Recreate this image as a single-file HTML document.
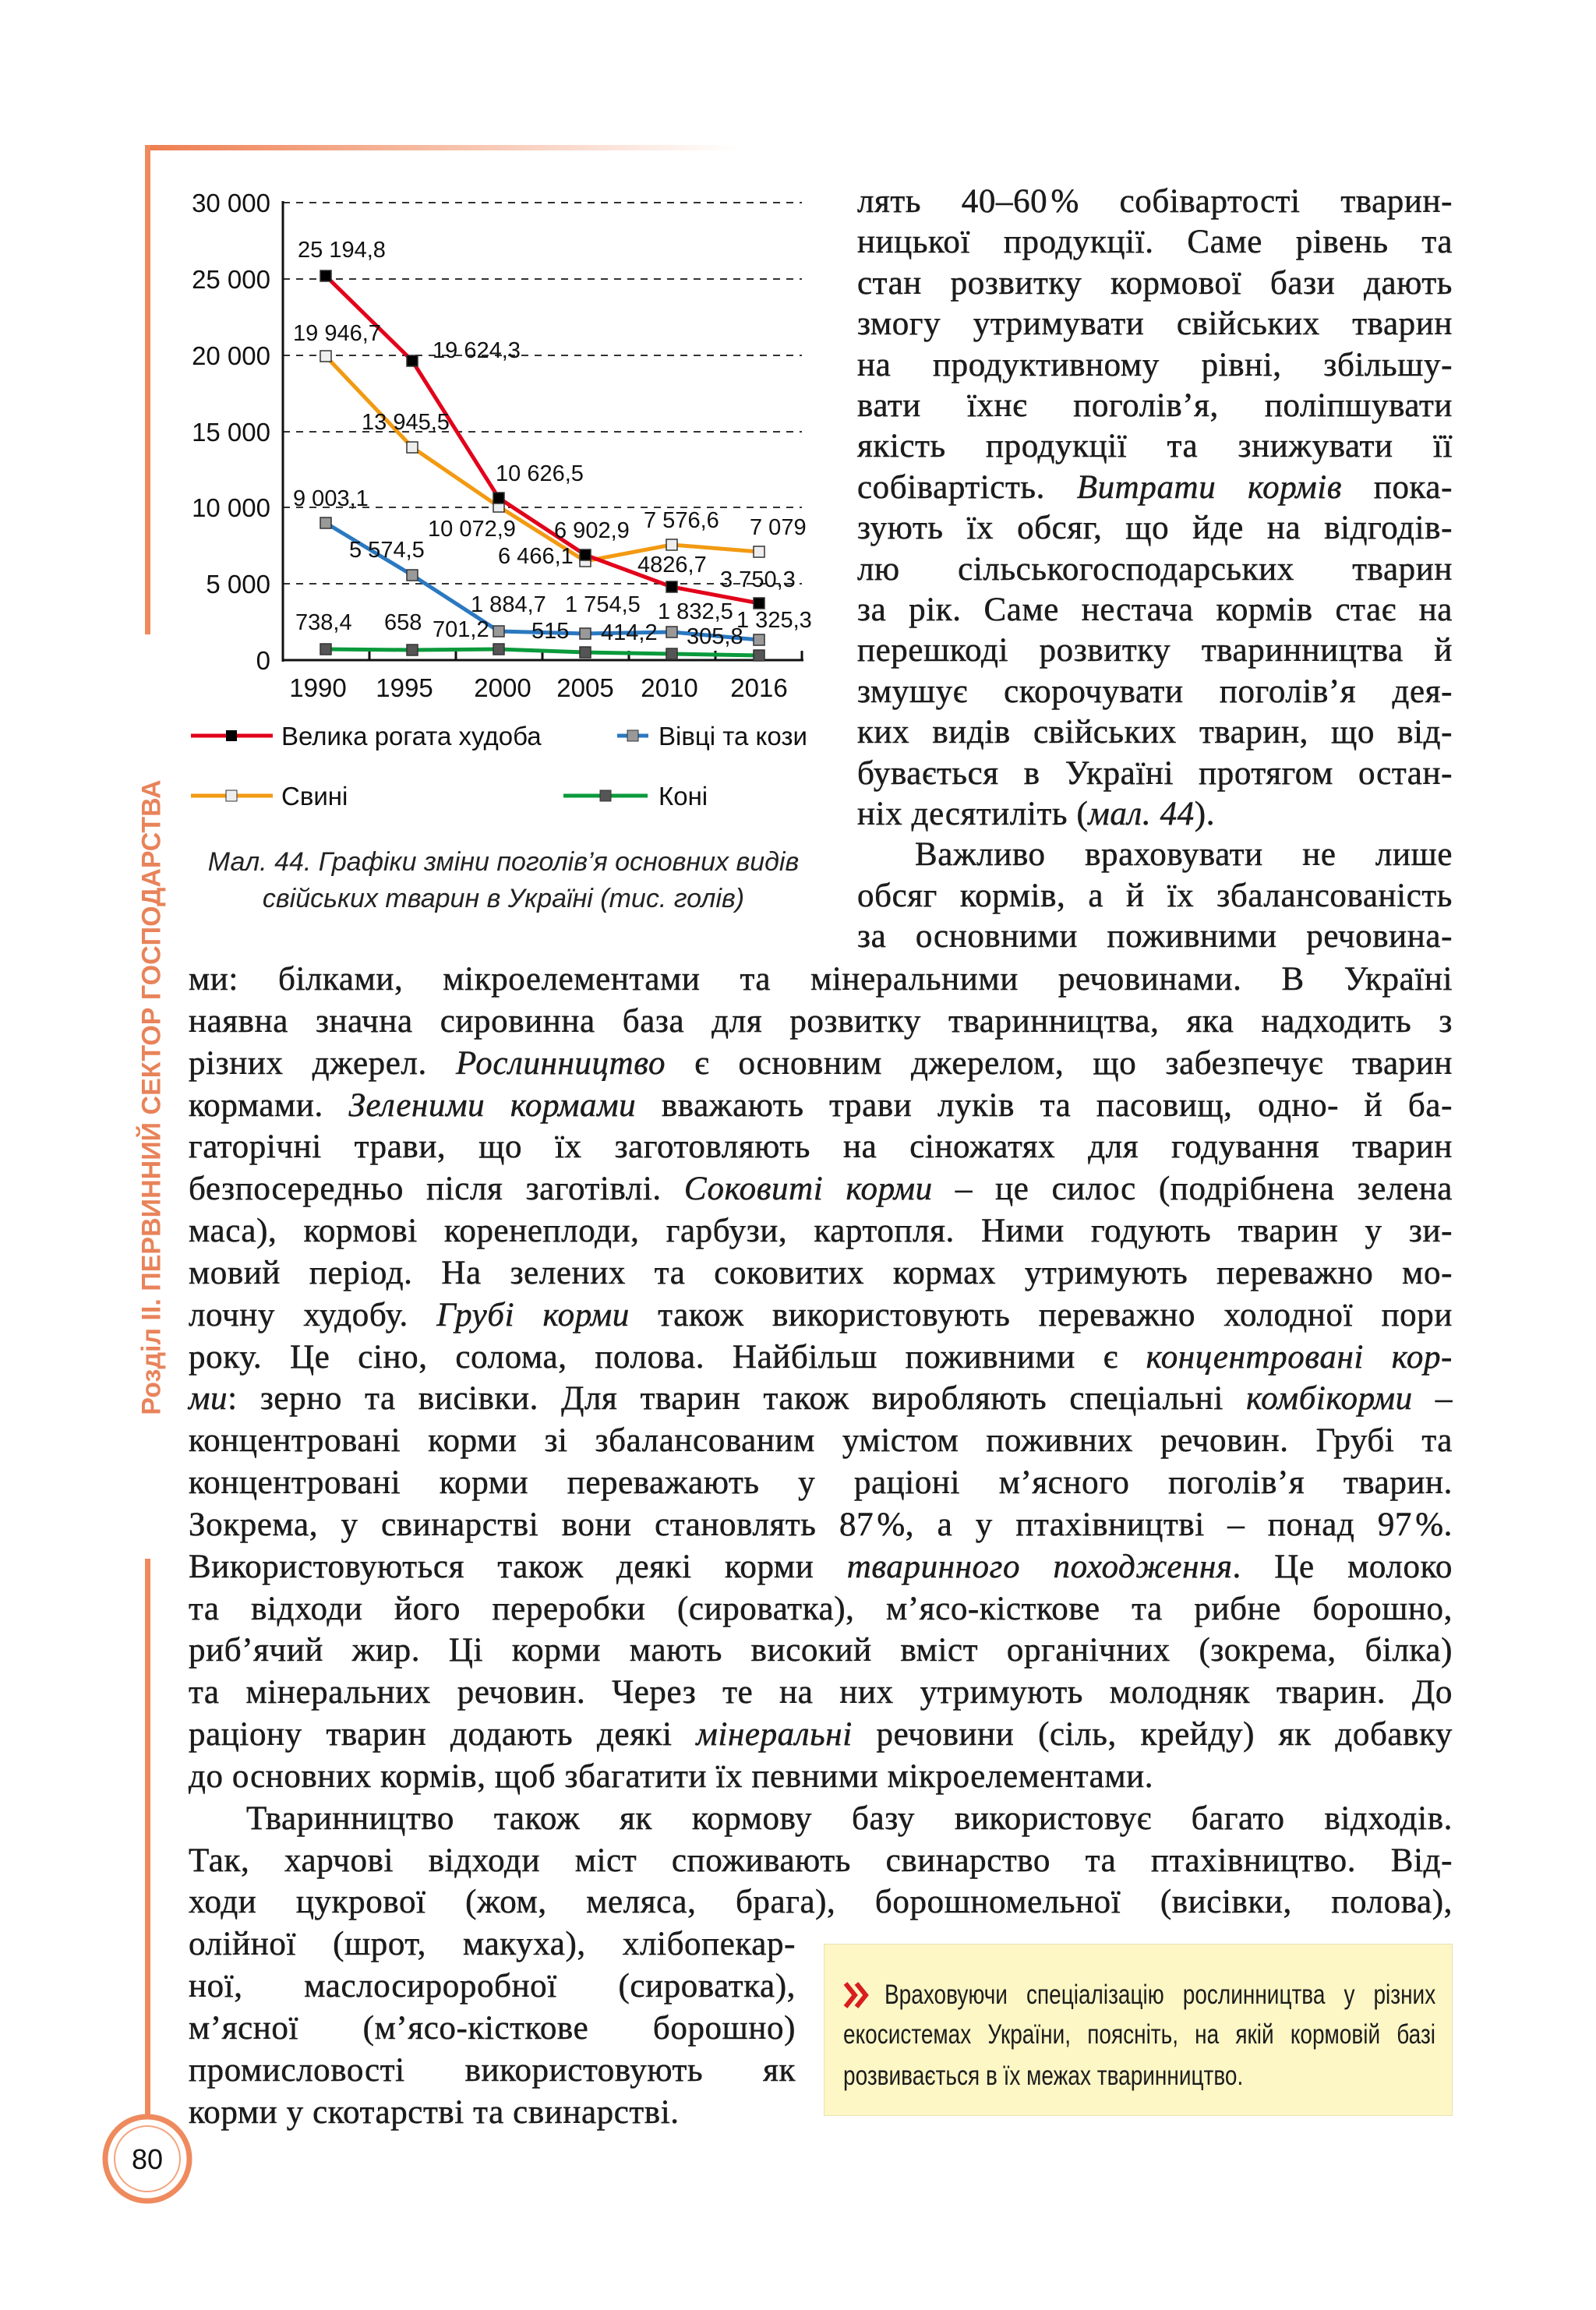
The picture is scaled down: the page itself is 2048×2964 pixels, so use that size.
<!DOCTYPE html>
<html><head><meta charset="utf-8">
<style>
html,body{margin:0;padding:0;background:#fff;}
body{width:2048px;height:2964px;position:relative;overflow:hidden;font-family:"Liberation Serif",serif;color:#1c1c1c;}
.l{position:absolute;height:52px;line-height:52px;font-size:43px;letter-spacing:0.6px;-webkit-text-stroke:0.5px #1c1c1c;white-space:nowrap;text-align:justify;text-align-last:justify;}
.r{left:1100px;width:764px;}
.f{left:242px;width:1622px;}
.c{left:242px;width:779px;}
.n{text-align-last:left;}
i{font-style:italic;}
svg{position:absolute;left:0;top:0;}
.box{position:absolute;left:1057px;top:2494px;width:807px;height:221px;background:#fdf7c6;border:1px solid #e8e2b0;box-sizing:border-box;}
.bt{position:absolute;left:1082px;width:950px;height:50px;line-height:50px;font-family:"Liberation Sans",sans-serif;font-size:35px;white-space:nowrap;text-align:justify;text-align-last:justify;transform:scaleX(0.8);transform-origin:0 0;}
.vt{position:absolute;left:195px;top:1408px;transform:translate(-50%,-50%) rotate(-90deg);font-family:"Liberation Sans",sans-serif;font-weight:bold;font-size:34px;color:#e8835a;white-space:nowrap;}
.cap{position:absolute;left:246px;width:800px;text-align:center;font-family:"Liberation Sans",sans-serif;font-style:italic;font-size:34px;line-height:46px;color:#222;}
</style></head><body>
<svg width="2048" height="2964" font-family="Liberation Sans, sans-serif">
<defs><linearGradient id="g" x1="0" x2="1"><stop offset="0" stop-color="#ee7d4e"/><stop offset="1" stop-color="#ee7d4e" stop-opacity="0"/></linearGradient></defs>
<rect x="186" y="186" width="760" height="7" fill="url(#g)"/>
<rect x="186" y="186" width="7" height="628" fill="#ee8a5e"/>
<rect x="186" y="2000" width="7" height="730" fill="#ee8a5e"/>
<circle cx="189" cy="2770" r="54" fill="#fff" stroke="#ee8a5e" stroke-width="7"/>
<circle cx="189" cy="2770" r="42" fill="none" stroke="#f3a57f" stroke-width="2"/>
<text x="189" y="2783" font-size="36" text-anchor="middle" fill="#111">80</text>
<g stroke="#333" stroke-width="2" stroke-dasharray="9,8">
<line x1="363" y1="260" x2="1029" y2="260"/><line x1="363" y1="358" x2="1029" y2="358"/><line x1="363" y1="456" x2="1029" y2="456"/><line x1="363" y1="554" x2="1029" y2="554"/><line x1="363" y1="651" x2="1029" y2="651"/><line x1="363" y1="749" x2="1029" y2="749"/>
</g>
<g stroke="#111" stroke-width="3"><line x1="363" y1="258" x2="363" y2="849"/><line x1="362" y1="847" x2="1031" y2="847"/>
<line x1="474" y1="847" x2="474" y2="835"/><line x1="585" y1="847" x2="585" y2="835"/><line x1="696" y1="847" x2="696" y2="835"/><line x1="807" y1="847" x2="807" y2="835"/><line x1="918" y1="847" x2="918" y2="835"/><line x1="1029" y1="847" x2="1029" y2="835"/></g>
<g font-size="33" text-anchor="end" fill="#111"><text x="347" y="272">30 000</text><text x="347" y="370">25 000</text><text x="347" y="468">20 000</text><text x="347" y="566">15 000</text><text x="347" y="663">10 000</text><text x="347" y="761">5 000</text><text x="347" y="859">0</text></g>
<g font-size="33" text-anchor="middle" fill="#111"><text x="408" y="894">1990</text><text x="519" y="894">1995</text><text x="645" y="894">2000</text><text x="751" y="894">2005</text><text x="859" y="894">2010</text><text x="974" y="894">2016</text></g>
<g fill="none" stroke-width="5" stroke-linejoin="round">
<polyline stroke="#0a9a3c" points="418,833 529,834 640,833 751,837 862,839 974,841"/>
<polyline stroke="#2a78c0" points="418,671 529,738 640,810 751,813 862,811 974,821"/>
<polyline stroke="#f29a12" points="418,457 529,574 640,650 751,720 862,699 974,708"/>
<polyline stroke="#e2001a" points="418,354 529,463 640,639 751,712 862,753 974,774"/>
</g>
<g stroke="#333" stroke-width="1.5">
<g fill="#555"><rect x="411" y="826" width="14" height="14"/><rect x="522" y="827" width="14" height="14"/><rect x="633" y="826" width="14" height="14"/><rect x="744" y="830" width="14" height="14"/><rect x="855" y="832" width="14" height="14"/><rect x="967" y="834" width="14" height="14"/></g>
<g fill="#999"><rect x="411" y="664" width="14" height="14"/><rect x="522" y="731" width="14" height="14"/><rect x="633" y="803" width="14" height="14"/><rect x="744" y="806" width="14" height="14"/><rect x="855" y="804" width="14" height="14"/><rect x="967" y="814" width="14" height="14"/></g>
<g fill="#eee"><rect x="411" y="450" width="14" height="14"/><rect x="522" y="567" width="14" height="14"/><rect x="633" y="643" width="14" height="14"/><rect x="744" y="713" width="14" height="14"/><rect x="855" y="692" width="14" height="14"/><rect x="967" y="701" width="14" height="14"/></g>
<g fill="#000"><rect x="411" y="347" width="14" height="14"/><rect x="522" y="456" width="14" height="14"/><rect x="633" y="632" width="14" height="14"/><rect x="744" y="705" width="14" height="14"/><rect x="855" y="746" width="14" height="14"/><rect x="967" y="767" width="14" height="14"/></g>
</g>
<g font-size="29" fill="#111">
<text x="382" y="330">25 194,8</text><text x="376" y="437">19 946,7</text><text x="555" y="459">19 624,3</text><text x="464" y="551">13 945,5</text><text x="636" y="617">10 626,5</text><text x="376" y="649">9 003,1</text><text x="549" y="688">10 072,9</text><text x="711" y="690">6 902,9</text><text x="826" y="677">7 576,6</text><text x="962" y="686">7 079</text><text x="448" y="715">5 574,5</text><text x="639" y="723">6 466,1</text><text x="818" y="734">4826,7</text><text x="924" y="753">3 750,3</text><text x="604" y="785">1 884,7</text><text x="725" y="785">1 754,5</text><text x="844" y="794">1 832,5</text><text x="945" y="805">1 325,3</text><text x="379" y="808">738,4</text><text x="493" y="808">658</text><text x="555" y="817">701,2</text><text x="682" y="819">515</text><text x="771" y="821">414,2</text><text x="881" y="826">305,8</text>
</g>
<line x1="245" y1="944" x2="350" y2="944" stroke="#e2001a" stroke-width="5"/><rect x="290" y="937" width="14" height="14" fill="#000"/>
<line x1="792" y1="944" x2="832" y2="944" stroke="#2a78c0" stroke-width="5"/><rect x="805" y="937" width="14" height="14" fill="#999" stroke="#333"/>
<line x1="245" y1="1021" x2="350" y2="1021" stroke="#f29a12" stroke-width="5"/><rect x="290" y="1014" width="14" height="14" fill="#eee" stroke="#333"/>
<line x1="723" y1="1021" x2="831" y2="1021" stroke="#0a9a3c" stroke-width="5"/><rect x="770" y="1014" width="14" height="14" fill="#555" stroke="#333"/>
<g font-size="33" fill="#111"><text x="361" y="956">Велика рогата худоба</text><text x="845" y="956">Вівці та кози</text><text x="361" y="1033">Свині</text><text x="845" y="1033">Коні</text></g>
</svg>
<div class="cap" style="top:1083px">Мал. 44. Графіки зміни поголів’я основних видів</div>
<div class="cap" style="top:1130px">свійських тварин в Україні (тис. голів)</div>
<div class="vt">Розділ ІІ. ПЕРВИННИЙ СЕКТОР ГОСПОДАРСТВА</div>

<div class="l r" style="top:233px">лять 40–60&#8202;% собівартості тварин-</div>
<div class="l r" style="top:285px">ницької продукції. Саме рівень та</div>
<div class="l r" style="top:338px">стан розвитку кормової бази дають</div>
<div class="l r" style="top:390px">змогу утримувати свійських тварин</div>
<div class="l r" style="top:443px">на продуктивному рівні, збільшу-</div>
<div class="l r" style="top:495px">вати їхнє поголів’я, поліпшувати</div>
<div class="l r" style="top:547px">якість продукції та знижувати її</div>
<div class="l r" style="top:600px">собівартість. <i>Витрати кормів</i> пока-</div>
<div class="l r" style="top:652px">зують їх обсяг, що йде на відгодів-</div>
<div class="l r" style="top:705px">лю сільськогосподарських тварин</div>
<div class="l r" style="top:757px">за рік. Саме нестача кормів стає на</div>
<div class="l r" style="top:809px">перешкоді розвитку тваринництва й</div>
<div class="l r" style="top:862px">змушує скорочувати поголів’я дея-</div>
<div class="l r" style="top:914px">ких видів свійських тварин, що від-</div>
<div class="l r" style="top:967px">бувається в Україні протягом остан-</div>
<div class="l r n" style="top:1019px">ніх десятиліть (<i>мал. 44</i>).</div>
<div class="l r" style="top:1071px;left:1174px;width:690px">Важливо враховувати не лише</div>
<div class="l r" style="top:1124px">обсяг кормів, а й їх збалансованість</div>
<div class="l r" style="top:1176px">за основними поживними речовина-</div>
<div class="l f" style="top:1231px">ми: білками, мікроелементами та мінеральними речовинами. В Україні</div>
<div class="l f" style="top:1285px">наявна значна сировинна база для розвитку тваринництва, яка надходить з</div>
<div class="l f" style="top:1339px">різних джерел. <i>Рослинництво</i> є основним джерелом, що забезпечує тварин</div>
<div class="l f" style="top:1393px">кормами. <i>Зеленими кормами</i> вважають трави луків та пасовищ, одно- й ба-</div>
<div class="l f" style="top:1446px">гаторічні трави, що їх заготовляють на сіножатях для годування тварин</div>
<div class="l f" style="top:1500px">безпосередньо після заготівлі. <i>Соковиті корми</i> – це силос (подрібнена зелена</div>
<div class="l f" style="top:1554px">маса), кормові коренеплоди, гарбузи, картопля. Ними годують тварин у зи-</div>
<div class="l f" style="top:1608px">мовий період. На зелених та соковитих кормах утримують переважно мо-</div>
<div class="l f" style="top:1662px">лочну худобу. <i>Грубі корми</i> також використовують переважно холодної пори</div>
<div class="l f" style="top:1716px">року. Це сіно, солома, полова. Найбільш поживними є <i>концентровані кор-</i></div>
<div class="l f" style="top:1769px"><i>ми</i>: зерно та висівки. Для тварин також виробляють спеціальні <i>комбікорми</i> –</div>
<div class="l f" style="top:1823px">концентровані корми зі збалансованим умістом поживних речовин. Грубі та</div>
<div class="l f" style="top:1877px">концентровані корми переважають у раціоні м’ясного поголів’я тварин.</div>
<div class="l f" style="top:1931px">Зокрема, у свинарстві вони становлять 87&#8202;%, а у птахівництві – понад 97&#8202;%.</div>
<div class="l f" style="top:1985px">Використовуються також деякі корми <i>тваринного походження</i>. Це молоко</div>
<div class="l f" style="top:2039px">та відходи його переробки (сироватка), м’ясо-кісткове та рибне борошно,</div>
<div class="l f" style="top:2092px">риб’ячий жир. Ці корми мають високий вміст органічних (зокрема, білка)</div>
<div class="l f" style="top:2146px">та мінеральних речовин. Через те на них утримують молодняк тварин. До</div>
<div class="l f" style="top:2200px">раціону тварин додають деякі <i>мінеральні</i> речовини (сіль, крейду) як добавку</div>
<div class="l f n" style="top:2254px">до основних кормів, щоб збагатити їх певними мікроелементами.</div>
<div class="l f" style="top:2308px;left:316px;width:1548px">Тваринництво також як кормову базу використовує багато відходів.</div>
<div class="l f" style="top:2362px">Так, харчові відходи міст споживають свинарство та птахівництво. Від-</div>
<div class="l f" style="top:2415px">ходи цукрової (жом, меляса, брага), борошномельної (висівки, полова),</div>
<div class="l c" style="top:2469px">олійної (шрот, макуха), хлібопекар-</div>
<div class="l c" style="top:2523px">ної, маслосироробної (сироватка),</div>
<div class="l c" style="top:2577px">м’ясної (м’ясо-кісткове борошно)</div>
<div class="l c" style="top:2631px">промисловості використовують як</div>
<div class="l c n" style="top:2685px">корми у скотарстві та свинарстві.</div>

<div class="box"></div>
<div class="bt" style="top:2535px;left:1135px;width:884px">Враховуючи спеціалізацію рослинництва у різних</div>
<svg width="2048" height="2964" style="pointer-events:none"><g fill="none" stroke="#d81e1e" stroke-width="6"><polyline points="1085,2545 1097,2560 1085,2575"/><polyline points="1099,2545 1111,2560 1099,2575"/></g></svg>
<div class="bt" style="top:2586px">екосистемах України, поясніть, на якій кормовій базі</div>
<div class="bt" style="top:2639px;text-align-last:left">розвивається в їх межах тваринництво.</div>
</body></html>
